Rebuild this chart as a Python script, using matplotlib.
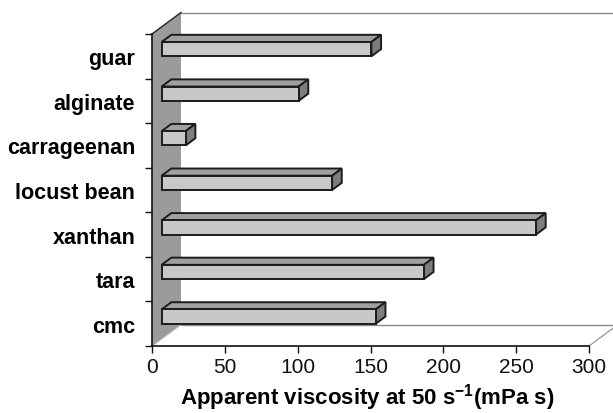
import matplotlib
matplotlib.use("Agg")
import matplotlib.pyplot as plt
from matplotlib.patches import Polygon
from matplotlib.lines import Line2D

plt.rcParams['font.family'] = ['Liberation Sans', 'DejaVu Sans']
plt.rcParams['mathtext.fontset'] = 'custom'
plt.rcParams['mathtext.rm'] = 'Liberation Sans:bold'
plt.rcParams['mathtext.bf'] = 'Liberation Sans:bold'
plt.rcParams['mathtext.default'] = 'bf'

# Data (bottom to top)
categories = ['cmc', 'tara', 'xanthan', 'locust bean', 'carrageenan', 'alginate', 'guar']
viscosity = [147, 180, 257, 117, 16.5, 94, 144]
x_ticks = [0, 50, 100, 150, 200, 250, 300]
x_label = 'Apparent viscosity at 50 s$^{-1}$(mPa s)'

W, H = 613, 414
fig = plt.figure(figsize=(W / 100, H / 100), dpi=100)
x0p, x1p, y0p, y1p = 152, 589, 347, 35
ax = fig.add_axes([x0p / W, (H - y0p) / H, (x1p - x0p) / W, (y0p - y1p) / H])
ax.set_xlim(0, 300)
ax.set_ylim(0, len(categories))
ax.set_facecolor('none')

# depth offsets (data units)
px_per_x = (x1p - x0p) / 300
px_per_y = (y0p - y1p) / len(categories)
DX = 29 / px_per_x
DY = 21.5 / px_per_y
n = len(categories)

# left side wall
wall = Polygon([(0, 0), (DX, DY), (DX, n + DY), (0, n)], closed=True,
               facecolor='#9b9b9b', edgecolor='none', clip_on=False, zorder=1)
ax.add_patch(wall)
ax.add_line(Line2D([0, DX], [n, n + DY], color='#222222', lw=1.0, clip_on=False, zorder=2))
ax.add_line(Line2D([0, DX], [0, DY], color='#b0b0b0', lw=0.8, clip_on=False, zorder=2))
# back wall top edge and floor edges
ax.add_line(Line2D([DX, 330], [n + DY, n + DY], color='#8a8a8a', lw=1.0, clip_on=False, zorder=1))
ax.add_line(Line2D([DX, 330], [DY, DY], color='#8a8a8a', lw=1.0, clip_on=False, zorder=1))
ax.add_line(Line2D([300, 300 + DX], [0, DY], color='#8a8a8a', lw=0.8, clip_on=False, zorder=1))

# bars
bh = 14.3 / px_per_y
fx, fy = DX / 3, DY / 3
front_c, top_c, side_c, edge_c = '#c8c8c8', '#a0a0a0', '#7d7d7d', '#1c1c1c'
for i, v in enumerate(viscosity):
    yc = i + 0.5
    xl, xr = fx, v + fx
    yb, yt = yc - bh / 2 + fy, yc + bh / 2 + fy
    front = [(xl, yb), (xr, yb), (xr, yt), (xl, yt)]
    top = [(xl, yt), (xr, yt), (xr + fx, yt + fy), (xl + fx, yt + fy)]
    side = [(xr, yb), (xr + fx, yb + fy), (xr + fx, yt + fy), (xr, yt)]
    for poly, c in ((top, top_c), (side, side_c), (front, front_c)):
        ax.add_patch(Polygon(poly, closed=True, facecolor=c, edgecolor=edge_c,
                             lw=1.4, joinstyle='miter', clip_on=False, zorder=5))

# axes styling
for s in ('top', 'right'):
    ax.spines[s].set_visible(False)
for s in ('left', 'bottom'):
    ax.spines[s].set_color('#111111')
    ax.spines[s].set_linewidth(1.2)
    ax.spines[s].set_zorder(6)

ax.set_xticks(x_ticks)
ax.set_xticklabels([str(t) for t in x_ticks], fontsize=15)
ax.tick_params(axis='x', direction='out', length=5, width=1.0, pad=3, colors='#111111')
ax.set_yticks(range(n + 1))
ax.set_yticklabels([])
ax.tick_params(axis='y', which='major', direction='out', length=5, width=1.0, colors='#111111')
ax.set_yticks([i + 0.5 for i in range(n)], minor=True)
ax.set_yticklabels(categories, minor=True, fontsize=15.5, fontweight='bold')
ax.tick_params(axis='y', which='minor', length=0, pad=12)
ax.set_xlabel(x_label, fontsize=16, fontweight='bold', labelpad=6)
ax.xaxis.set_label_coords((367 - x0p) / (x1p - x0p), -(398 - y0p) / (y0p - y1p))
ax.xaxis.label.set_va('center')

fig.savefig('out.png', dpi=100)
